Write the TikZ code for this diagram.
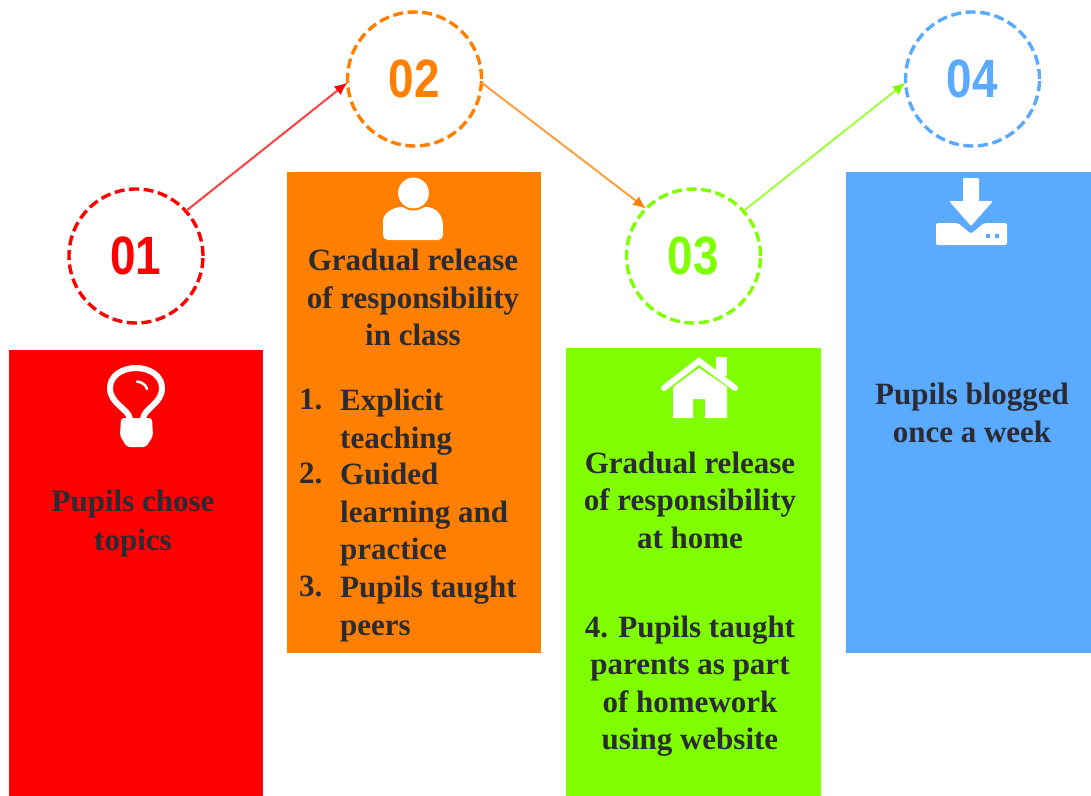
\documentclass[tikz,border=0pt]{standalone}
\usepackage{fontspec}
\setmainfont{Liberation Serif}
\newfontfamily\numfont{Liberation Sans}
\usetikzlibrary{arrows.meta}
\definecolor{cred}{HTML}{FF0000}
\definecolor{corange}{HTML}{FF8000}
\definecolor{cgreen}{HTML}{80FF00}
\definecolor{cblue}{HTML}{5AAAFF}
\definecolor{ink}{HTML}{2B2B33}
\tikzset{
  ring/.style={circle,draw=#1,text=#1,line width=3.4bp,dash pattern=on 10bp off 4.6bp,minimum size=134bp,inner sep=0pt,outer sep=0pt,font=\numfont\bfseries\fontsize{54bp}{54bp}\selectfont},
  panel/.style={fill=#1,draw=none,inner sep=0pt,anchor=north west},
  link/.style={draw=#1!75!white,line width=2bp,-{Latex[length=13bp,width=11bp,#1]}},
  body/.style={text=ink,font=\bfseries\fontsize{31bp}{37.5bp}\selectfont,align=center,inner sep=0pt},
  item/.style={text=ink,font=\bfseries\fontsize{31bp}{37.5bp}\selectfont,align=left,inner sep=0pt,anchor=north west},
  glyph/.style={fill=white,draw=none}
}
\newcommand{\cnum}[1]{\scalebox{0.85}[1]{#1}}
\begin{document}
\begin{tikzpicture}[x=1bp,y=-1bp]
\useasboundingbox (0,0) rectangle (1091,796);
\fill[white] (0,0) rectangle (1091,796);
% panels
\node[panel=cred,minimum width=254bp,minimum height=446bp] (p1) at (9,350) {};
\node[panel=corange,minimum width=254bp,minimum height=481bp] (p2) at (287,172) {};
\node[panel=cgreen,minimum width=255bp,minimum height=448bp] (p3) at (566,348) {};
\node[panel=cblue,minimum width=245bp,minimum height=481bp] (p4) at (846,172) {};
% rings
\node[ring=cred] (c1) at (136,256) {\cnum{01}};
\node[ring=corange] (c2) at (414.5,79) {\cnum{02}};
\node[ring=cgreen] (c3) at (693.5,256) {\cnum{03}};
\node[ring=cblue] (c4) at (972.5,79) {\cnum{04}};
% links
\draw[link=cred] (c1.42) -- (c2.183);
\draw[link=corange] (c2.-3) -- (c3.135);
\draw[link=cgreen] (c3.42) -- (c4.183);
% bulb
\draw[white,line width=6bp,line join=round] (130,419) .. controls (128,408) and (110,404) .. (110,388) .. controls (110,376) and (122,368) .. (136,368) .. controls (150,368) and (162,376) .. (162,388) .. controls (162,404) and (144,408) .. (143,419);
\fill[glyph,rounded corners=3bp] (121,418) -- (152,418) -- (153,436) -- (146,447) -- (127,447) -- (120,436) -- cycle;
\draw[white,line width=2.5bp,line cap=round] (137,381.5) .. controls (142,382) and (146,385) .. (147,389);
% person
\fill[glyph] (383,240) [rounded corners=5bp] -- (383,226) [rounded corners=0pt] .. controls (383,214) and (392,207) .. (402,207) -- (426,207) .. controls (435,207) and (443,214) .. (443,226) [rounded corners=5bp] -- (443,240) -- cycle;
\draw[corange,fill=white,line width=2bp] (413.5,193) circle (16.5bp);
% house
\draw[cgreen,line width=9bp] (664,388) -- (699,361) -- (735,388);
\fill[glyph] (716,357) rectangle (727,376);
\draw[white,line width=6bp,line cap=round] (664,388) -- (699,361) -- (735,388);
\fill[glyph] (673,387) -- (699,368) -- (727,387) -- (727,418) -- (705,418) -- (705,399) -- (693,399) -- (693,418) -- (673,418) -- cycle;
% download
\fill[glyph,rounded corners=2bp] (936,223) -- (958,223) -- (971,234) -- (984,223) -- (1007,223) -- (1007,245) -- (936,245) -- cycle;
\fill[glyph,rounded corners=1bp] (963,178) rectangle (979,202);
\fill[glyph,rounded corners=1bp] (949,201) -- (993,201) -- (971,226) -- cycle;
\fill[cblue] (986,234) rectangle (990,238) (995,234) rectangle (999,238);
% text
\node[body,font=\bfseries\fontsize{31bp}{38.5bp}\selectfont] (t1) at (133,523.5) {Pupils chose\\topics};
\node[body] (t2) at (413,297.5) {Gradual release\\of responsibility\\in class};
\node[item] (n1) at (299,389) {1.};
\node[item] (i1) at (340,389) {Explicit\\teaching};
\node[item] (n2) at (299,463) {2.};
\node[item] (i2) at (340,463) {Guided\\learning and\\practice};
\node[item] (n3) at (299,576) {3.};
\node[item] (i3) at (340,576) {Pupils taught\\peers};
\node[body] (t3) at (690,500) {Gradual release\\of responsibility\\at home};
\node[body] (t3b) at (690,686) {4. Pupils taught\\parents as part\\of homework\\using website};
\node[body] (t4) at (972,413) {Pupils blogged\\once a week};
\end{tikzpicture}
\end{document}
